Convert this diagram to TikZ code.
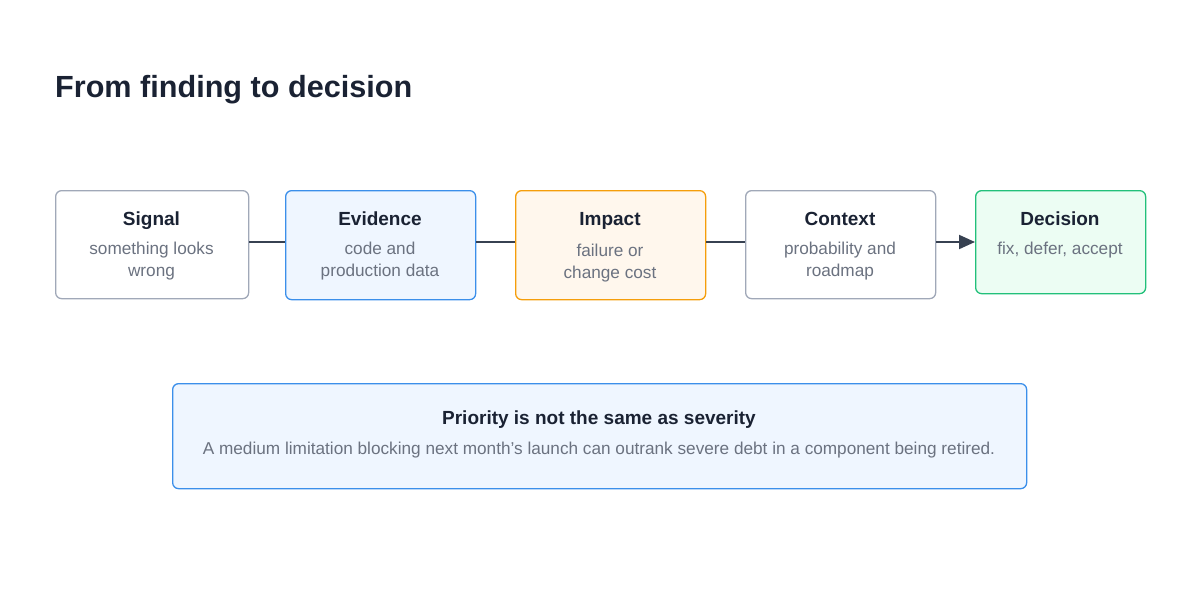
\documentclass[tikz,border=0pt]{standalone}
\usepackage{fontspec}
\setmainfont{Liberation Sans}
\usetikzlibrary{arrows.meta}
\definecolor{ink}{HTML}{1A2233}
\definecolor{sub}{HTML}{6B7280}
\definecolor{graybd}{HTML}{A0A8B8}
\definecolor{bluebd}{HTML}{3B8FEA}
\definecolor{bluefill}{HTML}{EFF6FF}
\definecolor{orangebd}{HTML}{F59E0B}
\definecolor{orangefill}{HTML}{FFF7ED}
\definecolor{greenbd}{HTML}{22C07A}
\definecolor{greenfill}{HTML}{ECFDF3}
\definecolor{linec}{HTML}{374151}
\tikzset{
  box/.style={draw, line width=1.3pt, rounded corners=6pt, inner sep=0pt, anchor=north west},
  ttl/.style={font=\bfseries\fontsize{19}{22}\selectfont, text=ink, inner sep=0pt, anchor=base},
  subt/.style={font=\fontsize{17.2}{22}\selectfont, text=sub, inner sep=0pt, anchor=base},
  conn/.style={draw=linec, line width=2pt},
}
\begin{document}
\begin{tikzpicture}[x=1pt,y=-1pt]
\useasboundingbox (0,0) rectangle (1200,600);
\node[font=\bfseries\fontsize{30.6}{34}\selectfont, text=ink, anchor=base west, inner sep=0pt] (title) at (55,97) {From finding to decision};

\node[box, draw=graybd, fill=white, minimum width=193pt, minimum height=108pt] (signal) at (55,190) {};
\node[box, draw=bluebd, fill=bluefill, minimum width=190pt, minimum height=109pt] (evidence) at (285,190) {};
\node[box, draw=orangebd, fill=orangefill, minimum width=190pt, minimum height=109pt] (impact) at (515,190) {};
\node[box, draw=graybd, fill=white, minimum width=190pt, minimum height=108pt] (context) at (745,190) {};
\node[box, draw=greenbd, fill=greenfill, minimum width=170pt, minimum height=103pt] (decision) at (975,190) {};

\node[ttl] (t1) at (151.5,225) {Signal};
\node[subt] (s1a) at (151.5,254) {something looks};
\node[subt] (s1b) at (151.5,276) {wrong};
\node[ttl] (t2) at (380,225) {Evidence};
\node[subt] (s2a) at (380,254) {code and};
\node[subt] (s2b) at (380,276) {production data};
\node[ttl] (t3) at (610,225) {Impact};
\node[subt] (s3a) at (610,256) {failure or};
\node[subt] (s3b) at (610,278) {change cost};
\node[ttl] (t4) at (840,225) {Context};
\node[subt] (s4a) at (840,254) {probability and};
\node[subt] (s4b) at (840,276) {roadmap};
\node[ttl] (t5) at (1060,225) {Decision};
\node[subt] (s5) at (1060,254) {fix, defer, accept};

\draw[conn] (signal.east |- 0,242) -- (evidence.west |- 0,242);
\draw[conn] (evidence.east |- 0,242) -- (impact.west |- 0,242);
\draw[conn] (impact.east |- 0,242) -- (context.west |- 0,242);
\draw[conn, -{Triangle[length=16pt,width=14pt]}] (context.east |- 0,242) -- (decision.west |- 0,242);

\node[box, draw=bluebd, fill=bluefill, minimum width=854pt, minimum height=105pt] (note) at (172,383) {};
\node[ttl] (nt) at (599,424) {Priority is not the same as severity};
\node[subt] (ns) at (599,454) {A medium limitation blocking next month\char"0027 s launch can outrank severe debt in a component being retired.};
\end{tikzpicture}
\end{document}
